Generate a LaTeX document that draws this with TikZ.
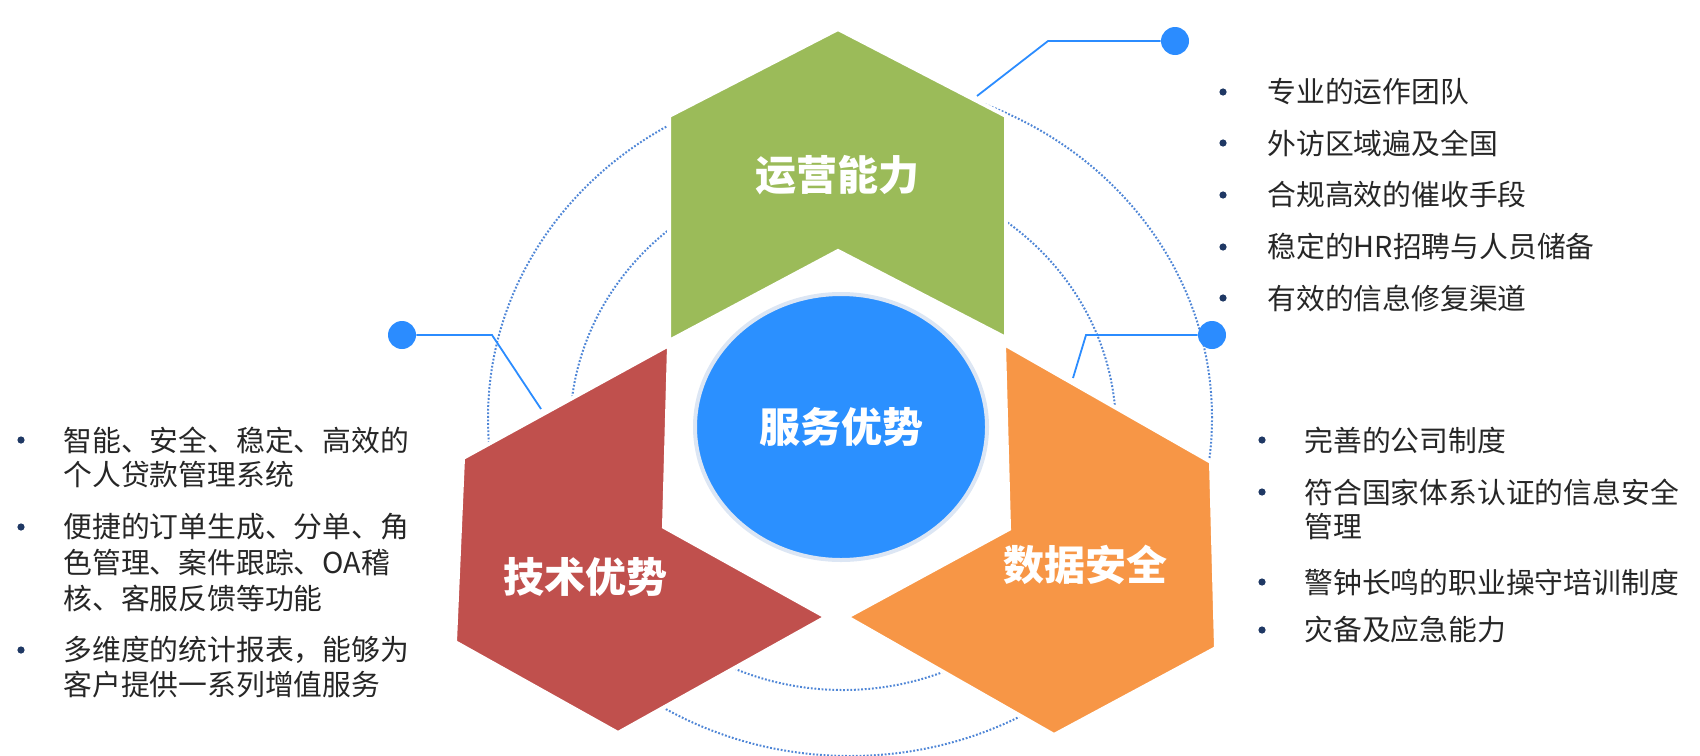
\documentclass[tikz,border=0pt]{standalone}
\usepackage{fontspec}
\setmainfont{Noto Sans CJK SC}
\usetikzlibrary{shapes.geometric}
\definecolor{hexgreen}{HTML}{9BBB59}
\definecolor{hexred}{HTML}{C0504D}
\definecolor{hexorange}{HTML}{F79646}
\definecolor{coreblue}{HTML}{2B90FF}
\definecolor{coreedge}{HTML}{DCE6F4}
\definecolor{ringblue}{HTML}{4F86D6}
\definecolor{linkblue}{HTML}{2B8CFF}
\definecolor{txtgray}{HTML}{262626}
\definecolor{dotnavy}{HTML}{1F3864}

\begin{document}
\begin{tikzpicture}[x=0.5pt,y=-0.5pt,
hexa/.style={draw=white, line width=2pt},
dotring/.style={draw=ringblue, line width=1pt, dash pattern=on 0.9pt off 0.9pt},
conn/.style={draw=linkblue, line width=0.9pt},
pin/.style={circle, fill=linkblue, minimum size=14pt, inner sep=0pt},
title/.style={text=white, font=\fontsize{20.5}{24}\selectfont\bfseries},
item/.style={anchor=west, text=txtgray, inner sep=0pt, font=\fontsize{14.4}{17}\selectfont},
]
\useasboundingbox (0,0) rectangle (1700,755);

% пунктирные кольца
\draw[dotring] (850,418) ellipse [x radius=181pt, y radius=169pt];
\draw[dotring] (843,430) ellipse [x radius=136.5pt, y radius=130pt];

% три шестиугольника
\fill[hexgreen, hexa] (838,29) -- (1006,116) -- (1006,338) -- (838,251) -- (669,341) -- (669,116) -- cycle;
\fill[hexred, hexa] (669,345) -- (664,527) -- (826,617) -- (618,733) -- (455,642) -- (463,458) -- cycle;
\fill[hexorange, hexa] (1004,344) -- (1211,462) -- (1216,648) -- (1054,735) -- (847,617) -- (1009,529) -- cycle;

\node[ellipse, fill=coreblue, draw=coreedge, line width=2pt, minimum width=146pt, minimum height=133pt,
  title] (core) at (841,427) {服务优势};
\node[title] (yunying) at (837,175) {运营能力};
\node[title] (jishu) at (585,577) {技术优势};
\node[title] (shuju) at (1085,565) {数据安全};

% выноски
\node[pin] (pinT) at (1175,41) {};
\coordinate (kT) at (1048,41);
\coordinate (eT) at (977,96);
\draw[conn] (pinT) -- (kT) -- (eT);
\node[pin] (pinL) at (402,335) {};
\coordinate (kL) at (492,335);
\coordinate (eL) at (541,409);
\draw[conn] (pinL) -- (kL) -- (eL);
\node[pin] (pinR) at (1212,335) {};
\coordinate (kR) at (1086,335);
\coordinate (eR) at (1073,378);
\draw[conn] (pinR) -- (kR) -- (eR);

% списки
\foreach \bx/\by in {1223/92,1223/143,1223/195,1223/247,1223/298,
  1262/440,1262/492,1262/582,1262/630,21/440,21/527,21/650}
  \fill[dotnavy] (\bx,\by) circle [radius=1.8pt];

\node[item] (r1) at (1267,92) {专业的运作团队};
\node[item] (r2) at (1267,143) {外访区域遍及全国};
\node[item] (r3) at (1267,195) {合规高效的催收手段};
\node[item] (r4) at (1267,247) {稳定的HR招聘与人员储备};
\node[item] (r5) at (1267,298) {有效的信息修复渠道};

\node[item] (s1) at (1304,440) {完善的公司制度};
\node[item] (s2) at (1304,492) {符合国家体系认证的信息安全};
\node[item] (s3) at (1304,527) {管理};
\node[item] (s4) at (1304,582) {警钟长鸣的职业操守培训制度};
\node[item] (s5) at (1304,630) {灾备及应急能力};

\node[item] (l1) at (63,440) {智能、安全、稳定、高效的};
\node[item] (l2) at (63,475) {个人贷款管理系统};
\node[item] (l3) at (63,527) {便捷的订单生成、分单、角};
\node[item] (l4) at (63,563) {色管理、案件跟踪、OA稽};
\node[item] (l5) at (63,598) {核、客服反馈等功能};
\node[item] (l6) at (63,650) {多维度的统计报表，能够为};
\node[item] (l7) at (63,685) {客户提供一系列增值服务};
\end{tikzpicture}
\end{document}
